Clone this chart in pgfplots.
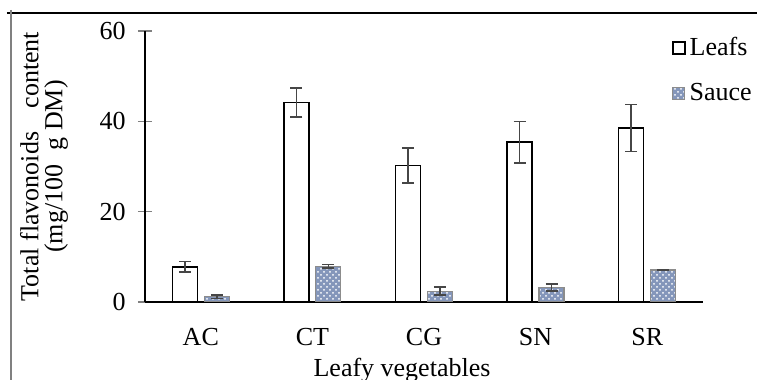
\documentclass[border=0pt]{standalone}
\usepackage{pgfplots}
\pgfplotsset{compat=1.18}
\usepackage{pgfplotstable}
\usepackage{fontspec}
\setmainfont{Liberation Serif}
\usetikzlibrary{patterns}
\definecolor{saucefill}{RGB}{132,150,186}
\definecolor{sauceedge}{RGB}{140,140,140}
\definecolor{errcol}{RGB}{70,70,70}
\newcommand{\fs}{\fontsize{13}{15}\selectfont}
\pgfplotstableread{
x y e
0 7.8 1.2
1 44.2 3.2
2 30.2 3.9
3 35.4 4.6
4 38.5 5.2
}\leafs
\pgfplotstableread{
x y e
0 1.2 0.4
1 7.9 0.4
2 2.4 0.9
3 3.2 0.8
4 7.1 0.1
}\sauce
\begin{document}
\begin{tikzpicture}
\useasboundingbox (-72.5pt,-39pt) rectangle (306pt,151pt);
\draw[black, line width=0.7pt] (-69pt,144.5pt) -- (306pt,144.5pt);
\draw[gray, line width=0.6pt] (-67pt,146pt) -- (-67pt,-39pt);
\begin{axis}[
  at={(0,0)}, anchor=south west,
  scale only axis, width=279pt, height=135.5pt,
  xmin=-0.5, xmax=4.5, ymin=0, ymax=60,
  axis x line*=bottom, axis y line*=left,
  axis line style={-, line width=0.75pt},
  xtick={0,1,2,3,4}, xticklabels={AC,CT,CG,SN,SR},
  xtick style={draw=none},
  x tick label style={font=\fs, anchor=base, yshift=-15pt},
  ytick={0,20,40,60}, tick align=center, major tick length=7pt,
  ytick style={line width=0.75pt},
  y tick label style={font=\fs, anchor=east, inner sep=0pt, xshift=-6pt},
  /pgf/number format/assume math mode=true,
  xlabel={Leafy vegetables},
  xlabel style={font=\fs, at={(axis description cs:0.4606,0)}, anchor=base, yshift=-37.5pt},
  ylabel={Total flavonoids\hspace{0.9em}content\\[-3pt](mg/100\hspace{0.55em}g DM)},
  ylabel style={font=\fs, align=center, at={(axis description cs:-0.181,0.5)}, anchor=center},
  ybar, bar width=12.5pt,
  legend style={at={(axis description cs:0.944,0.993)}, anchor=north west, draw=none, fill=none,
    font=\fs, inner sep=0pt, row sep=8.5pt,
    /tikz/every even column/.append style={column sep=3pt}},
  legend cell align=left,
  legend image code/.code={\draw[#1] (0pt,-3pt) rectangle (6pt,3pt);},
  error bars/error bar style={errcol, line width=0.75pt},
  error bars/error mark options={rotate=90, mark size=3pt, errcol, line width=0.75pt},
]
\addplot[bar shift=-8pt, fill=white, draw=black, line width=0.75pt,
  error bars/.cd, y dir=both, y explicit]
  table[x=x, y=y, y error=e] {\leafs};
\addlegendentry{Leafs}
\addplot[bar shift=8pt, fill=saucefill, draw=sauceedge, line width=0.6pt,
  postaction={pattern=crosshatch dots, pattern color=white},
  error bars/.cd, y dir=both, y explicit]
  table[x=x, y=y, y error=e] {\sauce};
\addlegendentry{Sauce}
\end{axis}
\end{tikzpicture}
\end{document}
